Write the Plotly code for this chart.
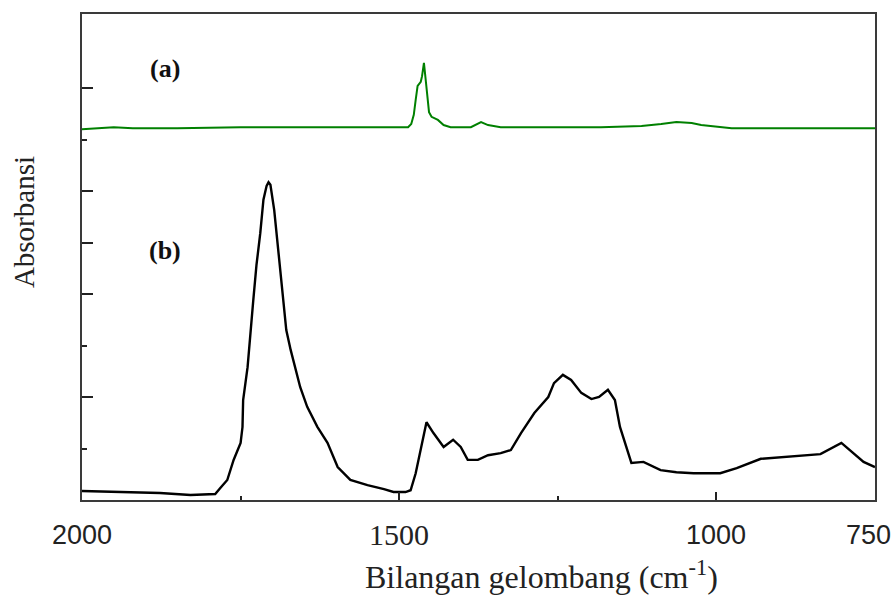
import plotly.graph_objects as go

# Spectrum (a) - green
wavenumber_a = [2000, 1975, 1950, 1920, 1850, 1750, 1650, 1577, 1497, 1486,
                1481, 1477, 1474, 1471, 1466, 1464, 1461, 1458, 1456, 1453,
                1449, 1439, 1430, 1419, 1387, 1378, 1371, 1360, 1340, 1182,
                1118, 1087, 1063, 1039, 1024, 976, 750]
absorb_a = [7.20, 7.22, 7.24, 7.22, 7.22, 7.24, 7.24, 7.24, 7.24, 7.24,
            7.30, 7.48, 7.77, 8.04, 8.12, 8.23, 8.49, 8.16, 7.84, 7.53,
            7.44, 7.38, 7.28, 7.24, 7.24, 7.30, 7.34, 7.28, 7.24, 7.24,
            7.26, 7.30, 7.34, 7.32, 7.28, 7.22, 7.22]

# Spectrum (b) - black
wavenumber_b = [2000, 1924, 1877, 1829, 1790, 1782, 1771, 1761, 1750, 1747,
                1746, 1739, 1735, 1730, 1725, 1719, 1714, 1709, 1706, 1703,
                1697, 1692, 1687, 1682, 1678, 1671, 1660, 1656, 1645, 1629,
                1613, 1597, 1577, 1550, 1524, 1509, 1490, 1482, 1474, 1466,
                1457, 1446, 1430, 1415, 1403, 1392, 1376, 1360, 1340, 1324,
                1308, 1287, 1265, 1256, 1242, 1229, 1213, 1197, 1185, 1171,
                1160, 1152, 1142, 1134, 1115, 1104, 1088, 1063, 1036, 994,
                968, 930, 894, 836, 803, 784, 768, 750]
absorb_b = [0.175, 0.155, 0.136, 0.097, 0.117, 0.233, 0.388, 0.777, 1.107, 1.417,
            1.942, 2.58, 3.24, 3.88, 4.56, 5.18, 5.83, 6.10, 6.17, 6.12,
            5.63, 5.05, 4.47, 3.88, 3.30, 2.91, 2.39, 2.19, 1.81, 1.42,
            1.11, 0.64, 0.39, 0.29, 0.21, 0.155, 0.155, 0.19, 0.52, 0.97,
            1.51, 1.30, 1.03, 1.17, 1.03, 0.78, 0.78, 0.87, 0.91, 0.97,
            1.30, 1.69, 2.00, 2.27, 2.43, 2.33, 2.08, 1.96, 2.00, 2.14,
            1.94, 1.42, 1.03, 0.72, 0.74, 0.68, 0.58, 0.54, 0.52, 0.52,
            0.62, 0.80, 0.83, 0.89, 1.11, 0.91, 0.74, 0.64]

x_tickvals = [2000, 1500, 1000, 750]
x_ticktext = ["2000", "1500", "1000", "750"]
x_tickfonts = ["Liberation Sans", "Liberation Serif", "Liberation Sans", "Liberation Sans"]
x_ticksizes = [27, 30, 27, 27]
x_minor_ticks = [1750, 1250]
y_major_ticks = [2, 4, 5, 6, 8]
y_minor_ticks = [1, 3, 7]

fig = go.Figure()
fig.add_trace(go.Scatter(x=wavenumber_a, y=absorb_a, mode="lines",
                         line=dict(color="rgb(0,128,0)", width=2), showlegend=False))
fig.add_trace(go.Scatter(x=wavenumber_b, y=absorb_b, mode="lines",
                         line=dict(color="black", width=2.4), showlegend=False))

fig.update_xaxes(range=[2000, 750], tickmode="array", tickvals=x_tickvals, ticktext=x_ticktext,
                 showticklabels=False,
                 ticks="inside", ticklen=8, tickwidth=1.5, tickcolor="#222",
                 showline=True, mirror=True, linecolor="#3a3a3a", linewidth=2,
                 showgrid=False, zeroline=False,
                 minor=dict(tickmode="array", tickvals=x_minor_ticks, ticks="inside",
                            ticklen=4, tickwidth=1.5, tickcolor="#222", showgrid=False))
fig.update_yaxes(range=[0, 9.437], tickmode="array", tickvals=y_major_ticks,
                 ticks="inside", ticklen=11, tickwidth=1.5, tickcolor="#222",
                 showticklabels=False,
                 showline=True, mirror=True, linecolor="#3a3a3a", linewidth=2,
                 showgrid=False, zeroline=False,
                 minor=dict(tickmode="array", tickvals=y_minor_ticks, ticks="inside",
                            ticklen=5, tickwidth=1.5, tickcolor="#222", showgrid=False))

# Tick labels (the reference mixes sans and serif fonts on this axis)
for val, txt, fam, sz in zip(x_tickvals, x_ticktext, x_tickfonts, x_ticksizes):
    fig.add_annotation(x=val, y=-0.072, xref="x", yref="paper", text=txt,
                       xanchor="center", yanchor="middle", showarrow=False,
                       xshift=(-7 if val == 750 else 0),
                       font=dict(family=fam, size=sz, color="#222"))

fig.add_annotation(x=1869, y=8.37, xref="x", yref="y", text="<b>(a)</b>", showarrow=False,
                   xanchor="center", yanchor="middle",
                   font=dict(family="Liberation Serif", size=26, color="#111"))
fig.add_annotation(x=1869, y=4.85, xref="x", yref="y", text="<b>(b)</b>", showarrow=False,
                   xanchor="center", yanchor="middle",
                   font=dict(family="Liberation Serif", size=26, color="#111"))
fig.add_annotation(x=0.579, y=-0.155, xref="paper", yref="paper",
                   text="Bilangan gelombang (cm<sup>-1</sup>)", showarrow=False,
                   xanchor="center", yanchor="middle",
                   font=dict(family="Liberation Serif", size=32, color="#222"))
fig.add_annotation(x=-0.073, y=0.572, xref="paper", yref="paper", text="Absorbansi",
                   textangle=-90, showarrow=False, xanchor="center", yanchor="middle",
                   font=dict(family="Liberation Serif", size=29, color="#222"))

fig.update_layout(width=892, height=601, margin=dict(l=82, r=17, t=14, b=101),
                  paper_bgcolor="white", plot_bgcolor="white")
fig.write_html("out.html")
